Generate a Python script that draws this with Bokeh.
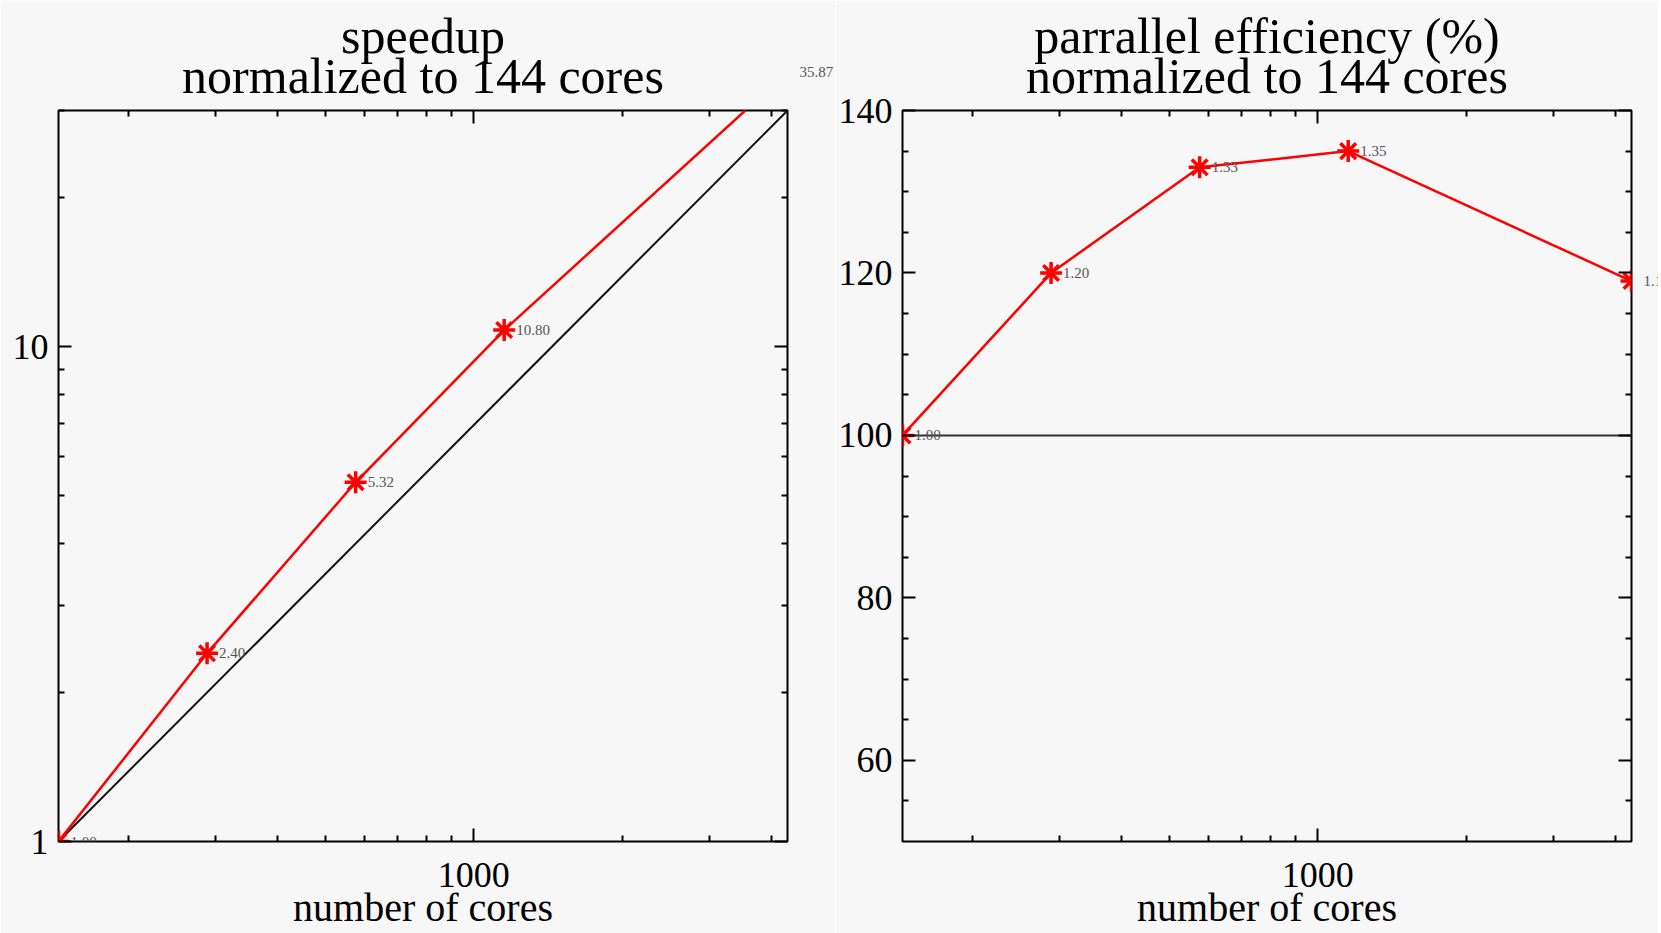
from bokeh.plotting import figure
from bokeh.models import (FixedTicker, LogAxis, LinearAxis, Label,
                          PrintfTickFormatter, CustomJSTickFormatter)
from bokeh.layouts import row
from bokeh.embed import file_html
from bokeh.resources import INLINE

# ---- data ----
cores = [144, 288, 576, 1152, 4320]
speedup = [1.00, 2.40, 5.32, 10.80, 35.87]
speedup_labels = ["1.00", "2.40", "5.32", "10.80", "35.87"]
efficiency = [100, 120, 133, 135, 119]
efficiency_labels = ["1.00", "1.20", "1.33", "1.35", "1.19"]
ideal_cores = [144, 4320]
ideal_speedup = [1, 30]
ideal_efficiency = [100, 100]

x_major = [1000]
x_minor = [200, 300, 400, 500, 600, 700, 800, 900, 2000, 3000, 4000]
speedup_major = [1, 10]
speedup_minor = [2, 3, 4, 5, 6, 7, 8, 9, 20, 30]
eff_major = [60, 80, 100, 120, 140]
eff_minor = [55, 65, 70, 75, 85, 90, 95, 105, 110, 115, 125, 130, 135]

title_left = "speedup\nnormalized to 144 cores"
title_right = "parrallel efficiency (%)\nnormalized to 144 cores"
xlabel = "number of cores"

# ---- style ----
BG = "#f7f7f7"
FONT = "Liberation Serif"
FRAME_H = 731
TOP = 110
BOTTOM = 92


def style_axis(ax, show_labels):
    ax.axis_line_color = None
    ax.major_tick_in = 13
    ax.major_tick_out = 0
    ax.minor_tick_in = 6
    ax.minor_tick_out = 0
    ax.major_tick_line_color = "black"
    ax.minor_tick_line_color = "black"
    ax.major_tick_line_width = 2
    ax.minor_tick_line_width = 2
    ax.major_label_text_font = FONT
    ax.major_label_text_color = "black"
    if show_labels:
        ax.formatter = PrintfTickFormatter(format="%d")
        ax.major_label_text_font_size = "36px"
        ax.major_label_standoff = 10
    else:
        ax.formatter = CustomJSTickFormatter(code="return '';")
        ax.major_label_text_font_size = "2px"
        ax.major_label_standoff = 0


def make_fig(width, bl, br, y_type, y_range, y_major, y_minor, title):
    p = figure(width=width, height=TOP + FRAME_H + BOTTOM,
               x_axis_type="log", y_axis_type=y_type,
               x_range=(ideal_cores[0], ideal_cores[-1]), y_range=y_range,
               output_backend="svg", toolbar_location=None,
               min_border_left=bl, min_border_right=br,
               min_border_top=TOP, min_border_bottom=BOTTOM,
               background_fill_color=BG, border_fill_color=BG,
               outline_line_color="black", outline_line_width=2)
    p.grid.visible = False
    xt = FixedTicker(ticks=x_major, minor_ticks=x_minor)
    yt = FixedTicker(ticks=y_major, minor_ticks=y_minor)
    p.xaxis.ticker = xt
    p.yaxis.ticker = yt
    style_axis(p.xaxis[0], True)
    style_axis(p.yaxis[0], True)
    xa = p.xaxis[0]
    xa.major_label_standoff = 21
    xa.axis_label = xlabel
    xa.axis_label_text_font = FONT
    xa.axis_label_text_font_size = "40px"
    xa.axis_label_text_font_style = "normal"
    xa.axis_label_text_color = "black"
    xa.axis_label_standoff = -5
    top_ax = LogAxis(ticker=xt)
    style_axis(top_ax, False)
    p.add_layout(top_ax, "above")
    if y_type == "log":
        right_ax = LogAxis(ticker=yt)
    else:
        right_ax = LinearAxis(ticker=yt)
    style_axis(right_ax, False)
    p.add_layout(right_ax, "right")
    # two-line title, centred over the frame
    t = p.title
    t.text = title
    t.align = "center"
    if "text_align" in t.properties():
        t.text_align = "center"
    t.text_font = FONT
    t.text_font_size = "50px"
    t.text_font_style = "normal"
    t.text_color = "black"
    t.text_line_height = 0.72
    t.standoff = 12
    return p


def add_value_labels(p, xs, ys, texts, y_range):
    for c, s, t in zip(xs, ys, texts):
        lab = Label(x=c, y=s, text=t, x_offset=12, text_baseline="middle",
                    text_font=FONT, text_font_size="15px", text_color="#555555")
        inside = y_range[0] <= s <= y_range[1] and c < ideal_cores[-1]
        p.add_layout(lab, "center" if inside else "right")


# left: speedup
sp_range = (1, 30)
p1 = make_fig(835, 58, 48, "log", sp_range, speedup_major, speedup_minor, title_left)
p1.line(ideal_cores, ideal_speedup, line_color="#111111", line_width=2)
p1.line(cores, speedup, line_color="#ff0000", line_width=2.5)
p1.scatter(cores, speedup, marker="asterisk", size=22, line_color="#ff0000", line_width=3.5)
add_value_labels(p1, cores, speedup, speedup_labels, sp_range)

# right: efficiency
ef_range = (50, 140)
p2 = make_fig(823, 65, 27, "linear", ef_range, eff_major, eff_minor, title_right)
p2.line(ideal_cores, ideal_efficiency, line_color="#333333", line_width=2)
p2.line(cores, efficiency, line_color="#ff0000", line_width=2.5)
p2.scatter(cores, efficiency, marker="asterisk", size=22, line_color="#ff0000", line_width=3.5)
add_value_labels(p2, cores, efficiency, efficiency_labels, ef_range)

layout = row(p1, p2)
open("out.html", "w").write(file_html(layout, INLINE))
